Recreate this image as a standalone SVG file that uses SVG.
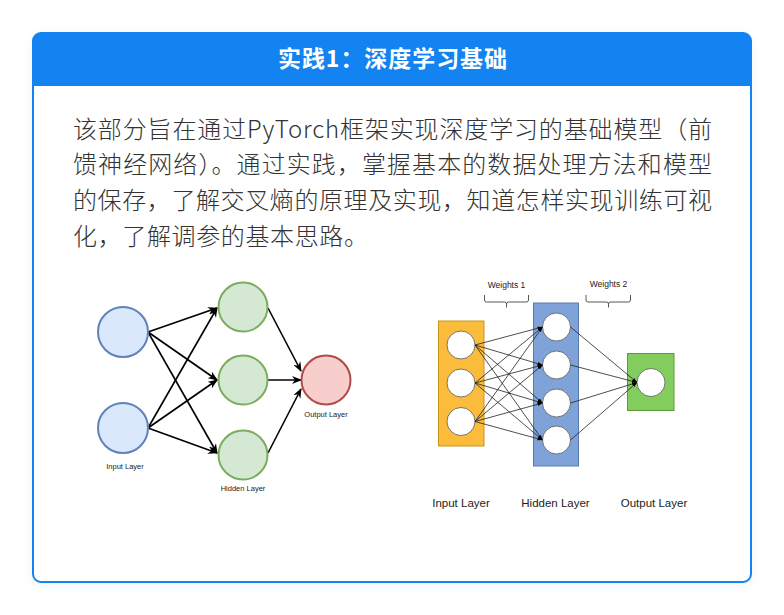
<svg xmlns="http://www.w3.org/2000/svg" width="784" height="615" viewBox="0 0 784 615">
<defs>
<style>
.title{font-family:"Noto Sans CJK SC","Noto Sans",sans-serif;font-weight:700;font-size:23px;fill:#fff}
.body{font-family:"Noto Sans CJK SC","Noto Sans",sans-serif;font-weight:300;font-size:24px;fill:#333}
.sm{font-family:"Liberation Sans",Arial,sans-serif;font-size:7.5px;fill:#222}
.lbl{font-family:"Liberation Sans",Arial,sans-serif;font-size:11.5px;fill:#222}
.wt{font-family:"Liberation Sans",Arial,sans-serif;font-size:8.5px;fill:#222}
.inN{fill:#dae8fc;stroke:#5f82b8;stroke-width:2}
.hidN{fill:#d5e8d4;stroke:#7aad5e;stroke-width:2}
.outN{fill:#f8cecc;stroke:#b04a47;stroke-width:2}
.edge{stroke:#000;stroke-width:1.6;fill:none}
.thin{stroke:#222;stroke-width:0.8;fill:none}
.wc{fill:#fff;stroke:#555;stroke-width:0.8}
</style>
<marker id="arr" viewBox="0 0 10 8" refX="9" refY="4" markerWidth="10" markerHeight="8" markerUnits="userSpaceOnUse" orient="auto">
<path d="M0,0 L10,4 L0,8 L3,4 z" fill="#000"/>
</marker>
<marker id="sarr" viewBox="0 0 6 4" refX="6" refY="2" markerWidth="5" markerHeight="4" markerUnits="userSpaceOnUse" orient="auto">
<path d="M0,0 L6,2 L0,4 z" fill="#000"/>
</marker>
<filter id="sh" x="-5%" y="-5%" width="110%" height="110%">
<feGaussianBlur stdDeviation="6"/>
</filter>
</defs>
<rect width="784" height="615" fill="#ffffff"/>
<rect x="33" y="35" width="718" height="549" rx="8" fill="#e3e8f0" opacity="0.6" filter="url(#sh)"/>
<g id="card">
<rect x="33" y="33" width="718" height="549" rx="8" fill="#fff" stroke="#1283f0" stroke-width="2"/>
<path d="M33,86 V41 A8,8 0 0 1 41,33 H743 A8,8 0 0 1 751,41 V86 Z" fill="#1283f0"/>
<text class="title" x="278" y="67" textLength="229" lengthAdjust="spacing">实践1：深度学习基础</text>
</g>
<g id="description">
<text class="body" x="73" y="138" textLength="639" lengthAdjust="spacing">该部分旨在通过PyTorch框架实现深度学习的基础模型（前</text>
<text class="body" x="73" y="173" textLength="639" lengthAdjust="spacing">馈神经网络）。通过实践，掌握基本的数据处理方法和模型</text>
<text class="body" x="73" y="209" textLength="639" lengthAdjust="spacing">的保存，了解交叉熵的原理及实现，知道怎样实现训练可视</text>
<text class="body" x="73" y="245" textLength="295" lengthAdjust="spacing">化，了解调参的基本思路。</text>
</g>
<g id="left-connectors">
<line class="edge" x1="148" y1="332" x2="217" y2="308" marker-end="url(#arr)"/>
<line class="edge" x1="148" y1="332" x2="217" y2="380" marker-end="url(#arr)"/>
<line class="edge" x1="148" y1="332" x2="217" y2="453" marker-end="url(#arr)"/>
<line class="edge" x1="148" y1="428" x2="217" y2="308" marker-end="url(#arr)"/>
<line class="edge" x1="148" y1="428" x2="217" y2="380" marker-end="url(#arr)"/>
<line class="edge" x1="148" y1="428" x2="217" y2="453" marker-end="url(#arr)"/>
<line class="edge" x1="268" y1="308" x2="301" y2="371" marker-end="url(#arr)"/>
<line class="edge" x1="268" y1="380" x2="301" y2="380" marker-end="url(#arr)"/>
<line class="edge" x1="268" y1="453" x2="301" y2="389" marker-end="url(#arr)"/>
</g>
<g id="left-input1"><circle class="inN" cx="123" cy="332" r="25"/></g>
<g id="left-input2"><circle class="inN" cx="123" cy="428" r="25"/></g>
<g id="left-hidden1"><circle class="hidN" cx="243" cy="307" r="24.5"/></g>
<g id="left-hidden2"><circle class="hidN" cx="243" cy="380" r="24.5"/></g>
<g id="left-hidden3"><circle class="hidN" cx="243" cy="455" r="24.5"/></g>
<g id="left-output"><circle class="outN" cx="326" cy="380" r="24.5"/></g>
<g id="left-labels">
<text class="sm" x="125" y="469" text-anchor="middle">Input Layer</text>
<text class="sm" x="243" y="491" text-anchor="middle">Hidden Layer</text>
<text class="sm" x="326" y="417" text-anchor="middle">Output Layer</text>
</g>
<g id="right-input-layer">
<rect x="438.5" y="321" width="45.5" height="125" fill="#fbbc3c" stroke="#c8951c" stroke-width="1"/>
<circle class="wc" cx="461" cy="345" r="14"/>
<circle class="wc" cx="461" cy="383" r="14"/>
<circle class="wc" cx="461" cy="421.5" r="14"/>
</g>
<g id="right-hidden-layer">
<rect x="533.5" y="303" width="45" height="163" fill="#7fa3d9" stroke="#5a7bb0" stroke-width="1"/>
<circle class="wc" cx="556.5" cy="327" r="14"/>
<circle class="wc" cx="556.5" cy="365" r="14"/>
<circle class="wc" cx="556.5" cy="403" r="14"/>
<circle class="wc" cx="556.5" cy="440" r="14"/>
</g>
<g id="right-output-layer">
<rect x="627.5" y="353.5" width="46.5" height="57" fill="#83cc5e" stroke="#5a9a3a" stroke-width="1"/>
<circle class="wc" cx="651" cy="382.5" r="14"/>
</g>
<g id="right-connectors">
<line class="thin" x1="475" y1="345" x2="542.5" y2="327" marker-end="url(#sarr)"/>
<line class="thin" x1="475" y1="345" x2="542.5" y2="365" marker-end="url(#sarr)"/>
<line class="thin" x1="475" y1="345" x2="542.5" y2="403" marker-end="url(#sarr)"/>
<line class="thin" x1="475" y1="345" x2="542.5" y2="440" marker-end="url(#sarr)"/>
<line class="thin" x1="475" y1="383" x2="542.5" y2="327" marker-end="url(#sarr)"/>
<line class="thin" x1="475" y1="383" x2="542.5" y2="365" marker-end="url(#sarr)"/>
<line class="thin" x1="475" y1="383" x2="542.5" y2="403" marker-end="url(#sarr)"/>
<line class="thin" x1="475" y1="383" x2="542.5" y2="440" marker-end="url(#sarr)"/>
<line class="thin" x1="475" y1="421.5" x2="542.5" y2="327" marker-end="url(#sarr)"/>
<line class="thin" x1="475" y1="421.5" x2="542.5" y2="365" marker-end="url(#sarr)"/>
<line class="thin" x1="475" y1="421.5" x2="542.5" y2="403" marker-end="url(#sarr)"/>
<line class="thin" x1="475" y1="421.5" x2="542.5" y2="440" marker-end="url(#sarr)"/>
<line class="thin" x1="570.5" y1="327" x2="637" y2="382.5" marker-end="url(#sarr)"/>
<line class="thin" x1="570.5" y1="365" x2="637" y2="382.5" marker-end="url(#sarr)"/>
<line class="thin" x1="570.5" y1="403" x2="637" y2="382.5" marker-end="url(#sarr)"/>
<line class="thin" x1="570.5" y1="440" x2="637" y2="382.5" marker-end="url(#sarr)"/>
</g>
<g id="weights">
<text class="wt" x="506.5" y="288" text-anchor="middle">Weights 1</text>
<path d="M484.5,295 V300 Q484.5,302 486.5,302 H504.5 Q506.5,302 506.5,304 V307.5 M506.5,304 Q506.5,302 508.5,302 H526.5 Q528.5,302 528.5,300 V295" fill="none" stroke="#444" stroke-width="0.9"/>
<text class="wt" x="608.5" y="287" text-anchor="middle">Weights 2</text>
<path d="M586,295 V300 Q586,302 588,302 H606.5 Q608.5,302 608.5,304 V307.5 M608.5,304 Q608.5,302 610.5,302 H628.5 Q630.5,302 630.5,300 V295" fill="none" stroke="#444" stroke-width="0.9"/>
</g>
<g id="right-labels">
<text class="lbl" x="461" y="507" text-anchor="middle">Input Layer</text>
<text class="lbl" x="555.5" y="507" text-anchor="middle">Hidden Layer</text>
<text class="lbl" x="654" y="507" text-anchor="middle">Output Layer</text>
</g>
</svg>
